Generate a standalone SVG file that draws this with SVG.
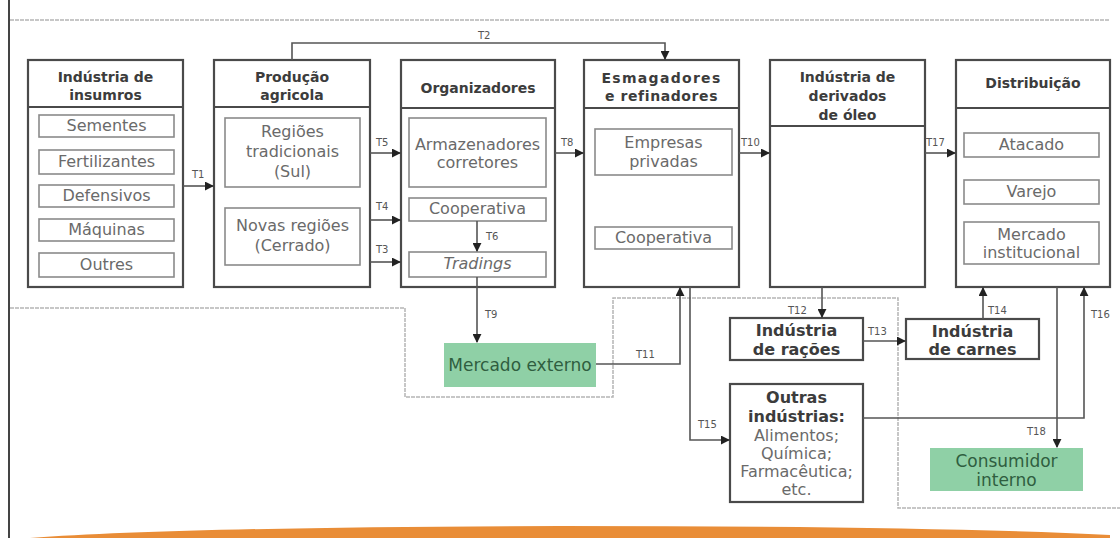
<svg xmlns="http://www.w3.org/2000/svg" width="1120" height="538" viewBox="0 0 1120 538">
<defs>
<style>
.box{fill:#fff;stroke:#4a4a4a;stroke-width:2.2}
.hd{stroke:#4a4a4a;stroke-width:2.2}
.sub{fill:#fff;stroke:#8a8a8a;stroke-width:1.6}
.green{fill:#8fd0a6;stroke:none}
.h{font-family:"DejaVu Sans",sans-serif;font-weight:bold;font-size:14px;fill:#3c3c3c;text-anchor:middle}
.hb{font-family:"DejaVu Sans",sans-serif;font-weight:bold;font-size:16px;fill:#3c3c3c;text-anchor:middle}
.t{font-family:"DejaVu Sans",sans-serif;font-size:16px;fill:#6a6a6a;text-anchor:middle}
.g{font-family:"DejaVu Sans",sans-serif;font-size:17px;fill:#2f5e40;text-anchor:middle}
.lb{font-family:"DejaVu Sans",sans-serif;font-size:10px;fill:#555}
.c{fill:none;stroke:#555;stroke-width:1.6}
.frame{fill:none;stroke:#b5b5b5;stroke-width:1.5;stroke-dasharray:4 1}
</style>
<marker id="ah" viewBox="0 0 10 10" refX="9" refY="5" markerWidth="9" markerHeight="9" markerUnits="userSpaceOnUse" orient="auto">
<path d="M0,0 L10,5 L0,10 Z" fill="#222"/>
</marker>
</defs>
<rect width="1120" height="538" fill="#fff"/>
<g id="frame">
<line x1="9" y1="0" x2="9" y2="538" stroke="#444" stroke-width="2"/>
<line x1="10" y1="20" x2="1110" y2="20" class="frame"/>
<path class="frame" d="M10,308 H405 V397 H613 V298 H898 V508 H1120"/>
<path d="M30,538 Q180,527 560,526 Q930,526 1110,535 L1110,538 Z" fill="#e98d37"/>
</g>
<g id="n-insumos">
<rect class="box" x="28" y="60" width="155" height="227"/>
<line class="hd" x1="28" y1="107" x2="183" y2="107"/>
<text class="h" x="105.5" y="82">Indústria de</text>
<text class="h" x="105.5" y="100">insumros</text>
<rect class="sub" x="39" y="115" width="135" height="22"/>
<text class="t" x="106.5" y="131">Sementes</text>
<rect class="sub" x="39" y="150" width="135" height="24"/>
<text class="t" x="106.5" y="167">Fertilizantes</text>
<rect class="sub" x="39" y="185" width="135" height="22"/>
<text class="t" x="106.5" y="201">Defensivos</text>
<rect class="sub" x="39" y="219" width="135" height="22"/>
<text class="t" x="106.5" y="235">Máquinas</text>
<rect class="sub" x="39" y="253" width="135" height="24"/>
<text class="t" x="106.5" y="270">Outres</text>
</g>
<g id="n-producao">
<rect class="box" x="214" y="60" width="156" height="227"/>
<line class="hd" x1="214" y1="107" x2="370" y2="107"/>
<text class="h" x="292" y="82">Produção</text>
<text class="h" x="292" y="100">agricola</text>
<rect class="sub" x="225" y="118" width="135" height="69"/>
<text class="t" x="292.5" y="137">Regiões</text>
<text class="t" x="292.5" y="157">tradicionais</text>
<text class="t" x="292.5" y="177">(Sul)</text>
<rect class="sub" x="225" y="208" width="135" height="57"/>
<text class="t" x="292.5" y="231">Novas regiões</text>
<text class="t" x="292.5" y="251">(Cerrado)</text>
</g>
<g id="n-organizadores">
<rect class="box" x="401" y="60" width="154" height="227"/>
<line class="hd" x1="401" y1="108" x2="555" y2="108"/>
<text class="h" x="478" y="93">Organizadores</text>
<rect class="sub" x="409" y="118" width="137" height="69"/>
<text class="t" x="477.5" y="150">Armazenadores</text>
<text class="t" x="477.5" y="168">corretores</text>
<rect class="sub" x="409" y="198" width="137" height="23"/>
<text class="t" x="477.5" y="214">Cooperativa</text>
<rect class="sub" x="409" y="252" width="137" height="25"/>
<text class="t" x="477.5" y="269" font-style="italic">Tradings</text>
</g>
<g id="n-esmagadores">
<rect class="box" x="584" y="60" width="155" height="227"/>
<line class="hd" x1="584" y1="108" x2="739" y2="108"/>
<text class="h" x="661.5" y="83" letter-spacing="1.3">Esmagadores</text>
<text class="h" x="661.5" y="101" letter-spacing="0.6">e refinadores</text>
<rect class="sub" x="595" y="129" width="137" height="46"/>
<text class="t" x="663.5" y="148">Empresas</text>
<text class="t" x="663.5" y="167">privadas</text>
<rect class="sub" x="595" y="227" width="137" height="22"/>
<text class="t" x="663.5" y="243">Cooperativa</text>
</g>
<g id="n-derivados">
<rect class="box" x="770" y="60" width="155" height="227"/>
<line class="hd" x1="770" y1="126" x2="925" y2="126"/>
<text class="h" x="847.5" y="82">Indústria de</text>
<text class="h" x="847.5" y="101">derivados</text>
<text class="h" x="847.5" y="120">de óleo</text>
</g>
<g id="n-distribuicao">
<rect class="box" x="956" y="60" width="154" height="227"/>
<line class="hd" x1="956" y1="108" x2="1110" y2="108"/>
<text class="h" x="1033" y="88">Distribuição</text>
<rect class="sub" x="964" y="133" width="135" height="24"/>
<text class="t" x="1031.5" y="150">Atacado</text>
<rect class="sub" x="964" y="180" width="135" height="24"/>
<text class="t" x="1031.5" y="197">Varejo</text>
<rect class="sub" x="964" y="222" width="135" height="42"/>
<text class="t" x="1031.5" y="240">Mercado</text>
<text class="t" x="1031.5" y="258">institucional</text>
</g>
<g id="n-mercado-externo">
<rect class="green" x="444" y="343" width="152" height="44"/>
<text class="g" x="520" y="371">Mercado externo</text>
</g>
<g id="n-racoes">
<rect class="box" x="730" y="318" width="133" height="42"/>
<text class="hb" x="796.5" y="336">Indústria</text>
<text class="hb" x="796.5" y="355">de rações</text>
</g>
<g id="n-carnes">
<rect class="box" x="906" y="319" width="133" height="40"/>
<text class="hb" x="972.5" y="337">Indústria</text>
<text class="hb" x="972.5" y="355">de carnes</text>
</g>
<g id="n-outras">
<rect class="box" x="730" y="384" width="133" height="118"/>
<text class="hb" x="796.5" y="403">Outras</text>
<text class="hb" x="796.5" y="422">indústrias:</text>
<text class="t" x="796.5" y="441">Alimentos;</text>
<text class="t" x="796.5" y="459">Química;</text>
<text class="t" x="796.5" y="477">Farmacêutica;</text>
<text class="t" x="796.5" y="495">etc.</text>
</g>
<g id="n-consumidor">
<rect class="green" x="930" y="448" width="153" height="43"/>
<text class="g" x="1006.5" y="467">Consumidor</text>
<text class="g" x="1006.5" y="486">interno</text>
</g>
<g id="connectors">
<path class="c" marker-end="url(#ah)" d="M183,186 H213"/>
<path class="c" marker-end="url(#ah)" d="M292,60 V43 H665 V59"/>
<path class="c" marker-end="url(#ah)" d="M370,153 H400"/>
<path class="c" marker-end="url(#ah)" d="M370,220 H400"/>
<path class="c" marker-end="url(#ah)" d="M370,262 H400"/>
<path class="c" marker-end="url(#ah)" d="M477,221 V251"/>
<path class="c" marker-end="url(#ah)" d="M555,153 H583"/>
<path class="c" marker-end="url(#ah)" d="M739,153 H769"/>
<path class="c" marker-end="url(#ah)" d="M925,153 H955"/>
<path class="c" marker-end="url(#ah)" d="M477,277 V342"/>
<path class="c" marker-end="url(#ah)" d="M596,364 H680 V288"/>
<path class="c" marker-end="url(#ah)" d="M690,287 V440 H729"/>
<path class="c" marker-end="url(#ah)" d="M822,287 V317"/>
<path class="c" marker-end="url(#ah)" d="M863,341 H905"/>
<path class="c" marker-end="url(#ah)" d="M983,319 V288"/>
<path class="c" marker-end="url(#ah)" d="M863,418 H1084 V288"/>
<path class="c" marker-end="url(#ah)" d="M1057,287 V447"/>
<text class="lb" x="192" y="178">T1</text>
<text class="lb" x="478" y="39">T2</text>
<text class="lb" x="376" y="146">T5</text>
<text class="lb" x="376" y="210">T4</text>
<text class="lb" x="376" y="253">T3</text>
<text class="lb" x="486" y="240">T6</text>
<text class="lb" x="561" y="146">T8</text>
<text class="lb" x="741" y="146">T10</text>
<text class="lb" x="926" y="146">T17</text>
<text class="lb" x="485" y="318">T9</text>
<text class="lb" x="636" y="358">T11</text>
<text class="lb" x="698" y="428">T15</text>
<text class="lb" x="788" y="314">T12</text>
<text class="lb" x="868" y="335">T13</text>
<text class="lb" x="988" y="314">T14</text>
<text class="lb" x="1091" y="318">T16</text>
<text class="lb" x="1027" y="435">T18</text>
</g>
</svg>
